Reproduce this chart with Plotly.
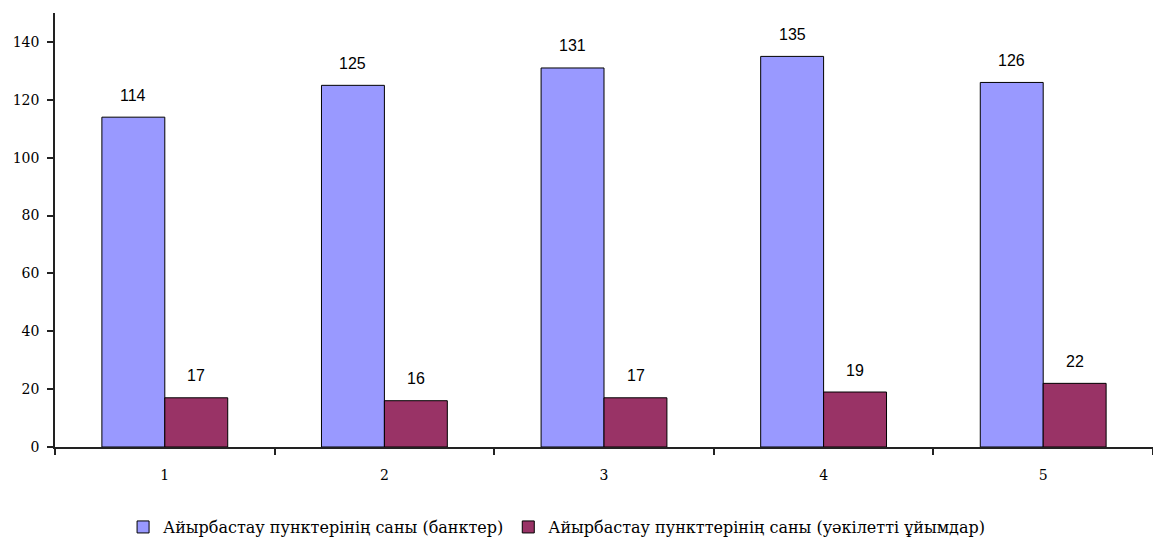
import plotly.graph_objects as go

categories = ["1", "2", "3", "4", "5"]
banks = [114, 125, 131, 135, 126]
agents = [17, 16, 17, 19, 22]
series_names = [
    "Айырбастау пунктерінің саны (банктер)",
    "Айырбастау пункттерінің саны (уәкілетті ұйымдар)",
]
y_ticks = [0, 20, 40, 60, 80, 100, 120, 140]

SERIF = "DejaVu Serif"
SANS = "Liberation Sans"

fig = go.Figure()
fig.add_trace(go.Bar(
    x=categories, y=banks, name=series_names[0],
    marker=dict(color="#9999FF", line=dict(color="#000000", width=1)),
))
fig.add_trace(go.Bar(
    x=categories, y=agents, name=series_names[1],
    marker=dict(color="#993366", line=dict(color="#000000", width=1)),
))

# value labels above each bar (category positions addressed by index)
half_bar_px = 31.5
for vals, shift in ((banks, -half_bar_px), (agents, half_bar_px)):
    for i, v in enumerate(vals):
        fig.add_annotation(
            x=i, y=v, xref="x", yref="y", text=str(v), showarrow=False,
            xshift=shift, yshift=22,
            font=dict(family=SANS, size=16, color="#000000"),
        )

fig.update_layout(
    width=1153, height=540,
    margin=dict(l=55, r=0, t=13, b=93, autoexpand=False),
    paper_bgcolor="white", plot_bgcolor="white",
    barmode="group", bargap=0.427, bargroupgap=0,
    showlegend=True,
    legend=dict(
        orientation="h", x=0.062, y=0.024, yref="container",
        xanchor="left", yanchor="middle",
        font=dict(family=SERIF, size=16, color="#000000"),
        itemwidth=30, tracegroupgap=0,
    ),
    font=dict(family=SERIF, size=14, color="#000000"),
)
fig.update_xaxes(
    type="category", range=[-0.5, 4.5],
    showline=True, linecolor="#222222", linewidth=1.5,
    ticks="outside", tickson="boundaries", ticklen=6, tickcolor="#222222",
    tickwidth=1.5, showgrid=False, zeroline=False, ticklabelstandoff=14,
    tickfont=dict(family=SERIF, size=14),
)
fig.update_yaxes(
    range=[0, 150], tickvals=y_ticks, showline=True, linecolor="#222222",
    linewidth=1.5, ticks="outside", ticklen=6, tickcolor="#222222", tickwidth=1.5,
    showgrid=False, zeroline=False, ticklabelstandoff=5,
    tickfont=dict(family=SERIF, size=14),
)

fig.write_html("out.html")
